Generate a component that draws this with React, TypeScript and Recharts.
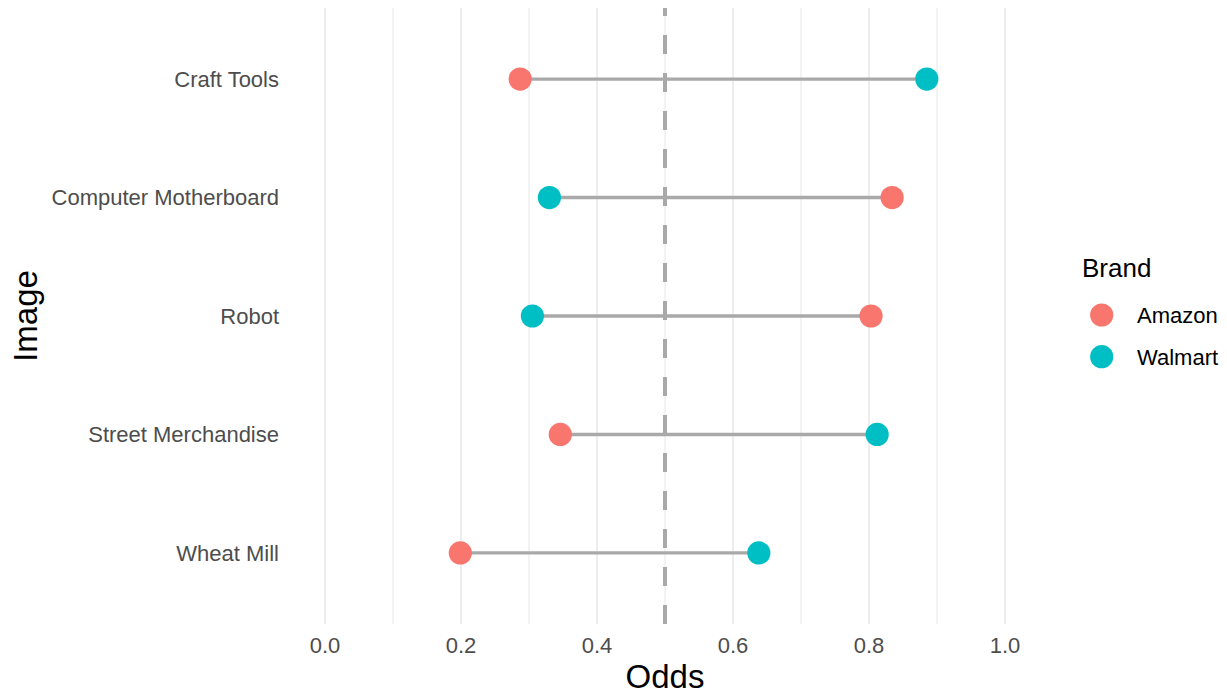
import React from "react";
import {
  ScatterChart, Scatter, XAxis, YAxis, ReferenceLine, Legend, Label,
} from "recharts";

// categories listed bottom to top (ggplot factor order)
const categories = ["Wheat Mill", "Street Merchandise", "Robot", "Computer Motherboard", "Craft Tools"];
const amazonOdds = [0.199, 0.346, 0.803, 0.834, 0.287];
const walmartOdds = [0.638, 0.812, 0.305, 0.330, 0.885];
const xTicks = [0, 0.2, 0.4, 0.6, 0.8, 1.0];
const minorTicks = [0.1, 0.3, 0.5, 0.7, 0.9];
const rowTicks = [1, 2, 3, 4, 5];

const AMAZON = "#F8766D";
const WALMART = "#00BFC4";
const SEG = "#A9A9A9";
const GRID = "#EBEBEB";
const FONT = "'Liberation Sans', Arial, sans-serif";

const amazonData = categories.map((c, i) => ({ x: amazonOdds[i], y: i + 1, name: c }));
const walmartData = categories.map((c, i) => ({ x: walmartOdds[i], y: i + 1, name: c }));
const segments = categories.map((c, i) => [
  { x: amazonOdds[i], y: i + 1 },
  { x: walmartOdds[i], y: i + 1 },
]);

const dot = (color: string) => (p: any) => (
  <circle cx={p.cx} cy={p.cy} r={11.6} fill={color} />
);

function BrandLegend({ payload }: any) {
  const items = (payload || []).filter((p: any) => p.value === "Amazon" || p.value === "Walmart");
  return (
    <svg width={167} height={150} style={{ display: "block" }}>
      <text x={22} y={37} fontSize={26} fontFamily={FONT} fill="#000">Brand</text>
      {items.map((p: any, i: number) => (
        <g key={p.value}>
          <circle cx={41.7} cy={75 + i * 41.7} r={11.6} fill={p.color} />
          <text x={77} y={83 + i * 41.7} fontSize={22} fontFamily={FONT} fill="#000">{p.value}</text>
        </g>
      ))}
    </svg>
  );
}

export default function App() {
  const tickStyle = { fill: "#4D4D4D", fontSize: 22, fontFamily: FONT };
  return (
    <div style={{ position: "absolute", left: 0, top: 0, background: "#fff", fontFamily: FONT }}>
      <ScatterChart width={1227} height={695} margin={{ top: 8, right: 188, bottom: 0, left: 0 }}>
        <XAxis
          type="number"
          dataKey="x"
          domain={[-0.05, 1.05]}
          ticks={xTicks}
          tickFormatter={(v) => Number(v).toFixed(1)}
          axisLine={false}
          tickLine={false}
          tickSize={0}
          tickMargin={13}
          height={71}
          tick={tickStyle}
        >
          <Label
            content={(props: any) => {
              const vb = props.viewBox || { x: 291, y: 624, width: 748 };
              return (
                <text x={vb.x + vb.width / 2} y={688} textAnchor="middle" fontSize={33} fontFamily={FONT} fill="#000">
                  Odds
                </text>
              );
            }}
          />
        </XAxis>
        <YAxis
          type="number"
          dataKey="y"
          domain={[0.4, 5.6]}
          ticks={rowTicks}
          tickFormatter={(v) => categories[Number(v) - 1] ?? ""}
          axisLine={false}
          tickLine={false}
          tickSize={0}
          tickMargin={12}
          width={291}
          tick={tickStyle}
        >
          <Label
            content={(props: any) => {
              const vb = props.viewBox || { y: 8, height: 616 };
              const cy = vb.y + vb.height / 2;
              return (
                <text x={37} y={cy} textAnchor="middle" fontSize={33} fontFamily={FONT} fill="#000"
                      transform={`rotate(-90, 37, ${cy})`}>
                  Image
                </text>
              );
            }}
          />
        </YAxis>
        {minorTicks.map((t) => (
          <ReferenceLine key={`m${t}`} x={t} stroke={GRID} strokeWidth={1.2} />
        ))}
        {xTicks.map((t) => (
          <ReferenceLine key={`M${t}`} x={t} stroke={GRID} strokeWidth={1.8} />
        ))}
        {segments.map((seg, i) => (
          <Scatter
            key={categories[i]}
            data={seg}
            line={{ stroke: SEG, strokeWidth: 3.4 }}
            shape={() => <g />}
            legendType="none"
            isAnimationActive={false}
          />
        ))}
        <ReferenceLine
          segment={[{ x: 0.5, y: 0.4 }, { x: 0.5, y: 5.6 }]}
          stroke={SEG}
          strokeWidth={4}
          strokeDasharray="19 19"
        />
        <Scatter name="Amazon" data={amazonData} fill={AMAZON} shape={dot(AMAZON)} isAnimationActive={false} />
        <Scatter name="Walmart" data={walmartData} fill={WALMART} shape={dot(WALMART)} isAnimationActive={false} />
        <Legend
          layout="vertical"
          align="center"
          verticalAlign="middle"
          content={(props: any) => <BrandLegend payload={props.payload} />}
          wrapperStyle={{ position: "absolute", left: 1060, top: 240, width: 167, height: 150 }}
        />
      </ScatterChart>
    </div>
  );
}
